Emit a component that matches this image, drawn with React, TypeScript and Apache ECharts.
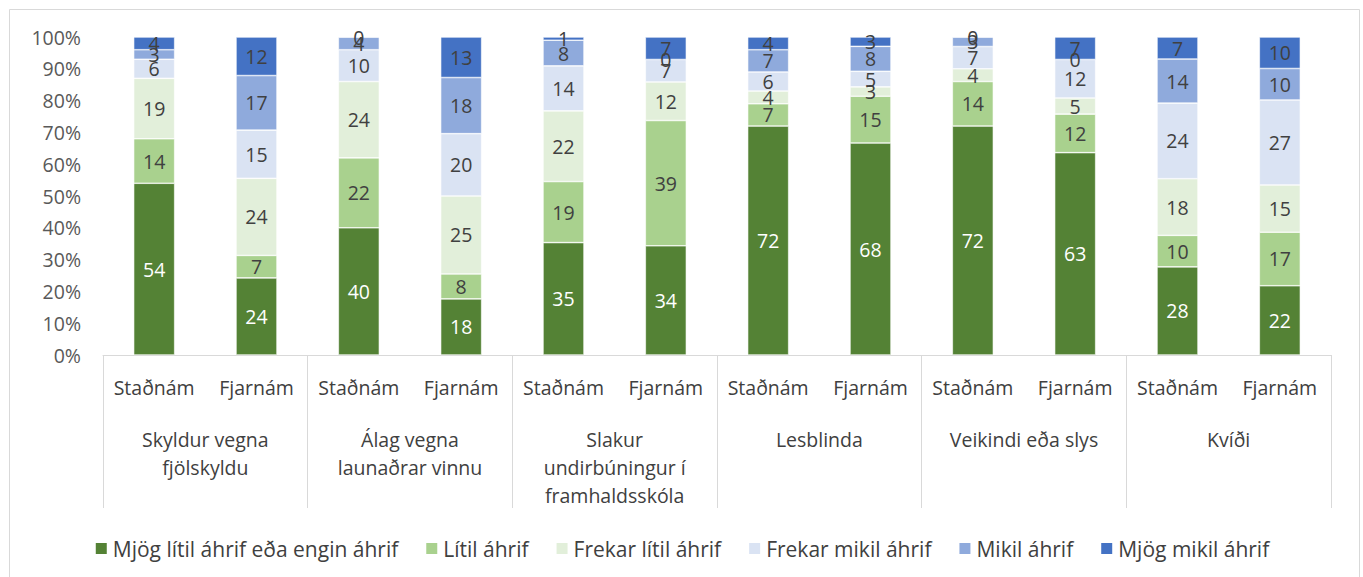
import React, { useEffect, useRef } from "react";
import * as echarts from "echarts";

const subCategories = [
  "Staðnám", "Fjarnám", "Staðnám", "Fjarnám", "Staðnám", "Fjarnám",
  "Staðnám", "Fjarnám", "Staðnám", "Fjarnám", "Staðnám", "Fjarnám",
];
const groupCategories = [
  "Skyldur vegna\nfjölskyldu",
  "Álag vegna\nlaunaðrar vinnu",
  "Slakur\nundirbúningur í\nframhaldsskóla",
  "Lesblinda",
  "Veikindi eða slys",
  "Kvíði",
];
const seriesNames = [
  "Mjög lítil áhrif eða engin áhrif",
  "Lítil áhrif",
  "Frekar lítil áhrif",
  "Frekar mikil áhrif",
  "Mikil áhrif",
  "Mjög mikil áhrif",
];
const mjogLitil = [54, 24, 40, 18, 35, 34, 72, 68, 72, 63, 28, 22];
const litil = [14, 7, 22, 8, 19, 39, 7, 15, 14, 12, 10, 17];
const frekarLitil = [19, 24, 24, 25, 22, 12, 4, 3, 4, 5, 18, 15];
const frekarMikil = [6, 15, 10, 20, 14, 7, 6, 5, 7, 12, 24, 27];
const mikil = [3, 17, 4, 18, 8, 0, 7, 8, 3, 0, 14, 10];
const mjogMikil = [4, 12, 0, 13, 1, 7, 4, 3, 0, 7, 7, 10];
const yTicks = [0, 10, 20, 30, 40, 50, 60, 70, 80, 90, 100];

const colors = ["#548235", "#A9D18E", "#E2EFDA", "#DAE3F3", "#8FAADC", "#4472C4"];
const FONT = "Open Sans";
const FS = 19.5;

export default function App() {
  const ref = useRef<HTMLDivElement>(null);
  useEffect(() => {
    document.body.style.margin = "0";
    if (!ref.current) return;
    const chart = echarts.init(ref.current, null, { renderer: "svg" });
    const raw = [mjogLitil, litil, frekarLitil, frekarMikil, mikil, mjogMikil];
    const totals = subCategories.map((_, i) => raw.reduce((s, arr) => s + arr[i], 0));
    const series = raw.map((arr, si) => ({
      name: seriesNames[si],
      type: "bar",
      stack: "total",
      barWidth: 41,
      xAxisIndex: 0,
      itemStyle: { color: colors[si], borderColor: "#ffffff", borderWidth: 0.6 },
      label: {
        show: true,
        position: "inside",
        fontFamily: FONT,
        fontSize: FS,
        color: si === 0 ? "#ffffff" : "#404040",
        formatter: (p: any) => String(arr[p.dataIndex]),
      },
      data: arr.map((v, i) => (v / totals[i]) * 100),
    }));
    chart.setOption({
      animation: false,
      backgroundColor: "#ffffff",
      textStyle: { fontFamily: FONT },
      grid: { left: 103, right: 32, top: 37, bottom: 222, containLabel: false },
      legend: {
        data: seriesNames,
        top: 533,
        left: "center",
        icon: "rect",
        itemWidth: 13,
        itemHeight: 13,
        itemGap: 26,
        textStyle: { fontFamily: FONT, fontSize: 21, color: "#404040" },
      },
      xAxis: [
        {
          type: "category",
          data: subCategories,
          position: "bottom",
          axisLine: { show: true, lineStyle: { color: "#d9d9d9", width: 1 } },
          axisTick: { show: false },
          axisLabel: { interval: 0, margin: 22, fontFamily: FONT, fontSize: FS, color: "#404040" },
        },
        {
          type: "category",
          data: groupCategories,
          position: "bottom",
          axisLine: { show: false },
          axisTick: { show: true, length: 153, interval: 0, lineStyle: { color: "#d9d9d9", width: 1 } },
          axisLabel: {
            interval: 0,
            margin: 70,
            fontFamily: FONT,
            fontSize: FS,
            lineHeight: 28,
            color: "#404040",
            align: "center",
          },
        },
      ],
      yAxis: {
        type: "value",
        min: 0,
        max: yTicks[yTicks.length - 1],
        interval: yTicks[1] - yTicks[0],
        axisLine: { show: false },
        axisTick: { show: false },
        splitLine: { show: false },
        axisLabel: { margin: 22, fontFamily: FONT, fontSize: FS, color: "#595959", formatter: "{value}%" },
      },
      graphic: [
        {
          type: "rect",
          shape: { x: 9.5, y: 9.5, width: 1350, height: 620 },
          style: { fill: "none", stroke: "#d9d9d9", lineWidth: 1 },
          silent: true,
        },
      ],
      series,
    });
    return () => chart.dispose();
  }, []);
  return <div ref={ref} style={{ width: 1363, height: 577 }} />;
}
